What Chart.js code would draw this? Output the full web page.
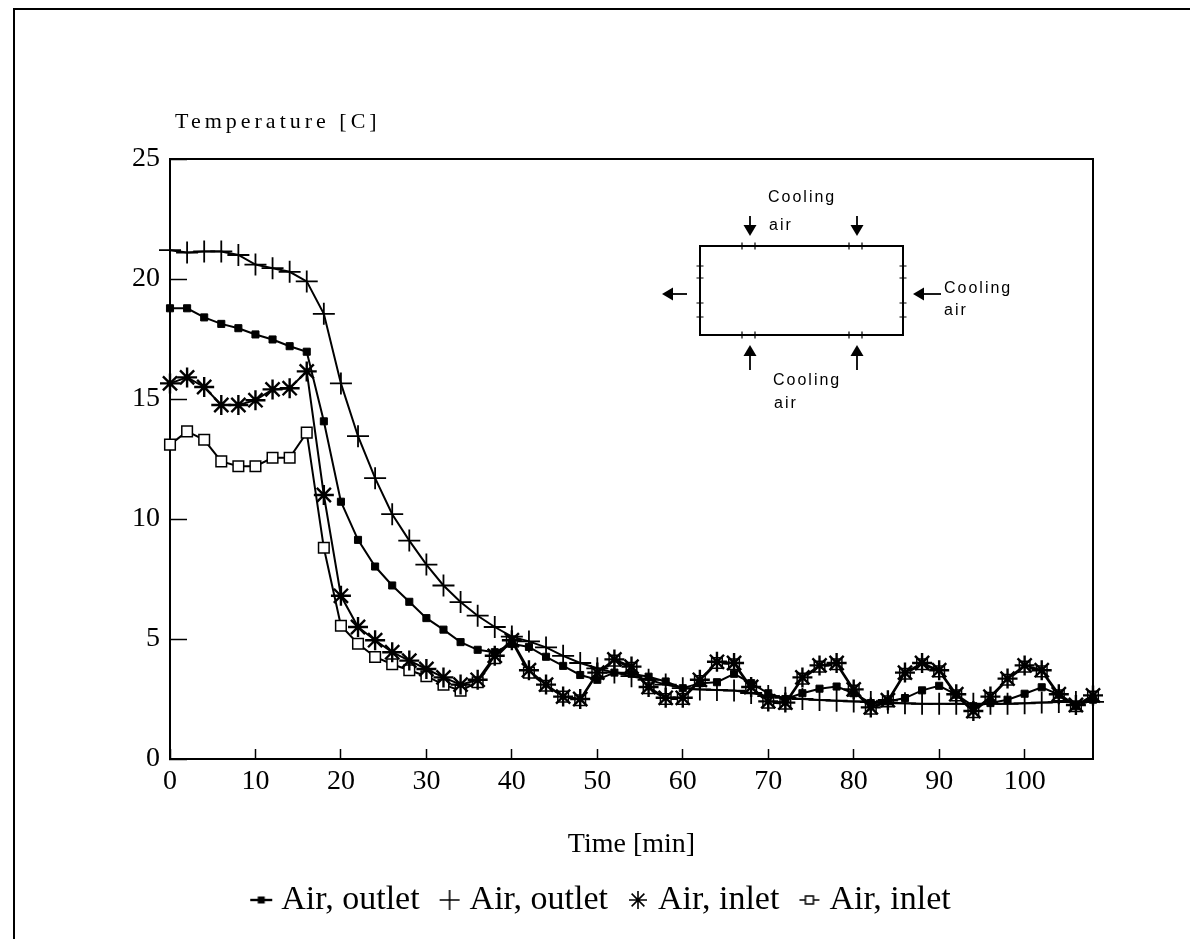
<!DOCTYPE html>
<html>
<head>
<meta charset="utf-8">
<script src="https://cdn.jsdelivr.net/npm/chart.js@4/dist/chart.umd.min.js"></script>
<style>
html,body{margin:0;padding:0;background:#fff;}
#wrap{width:1190px;height:939px;position:relative;}
</style>
</head>
<body>
<div id="wrap"><canvas id="c"></canvas></div>
<script>
// ---- data ----
const times = [0,2,4,6,8,10,12,14,16,18,20,22,24,26,28,30,32,34,36,38,40,42,44,46,48,50,52,54,56,58,60,62,64,66,68,70,72,74,76,78,80,82,84,86,88,90,92,94,96,98,100,102,104,106,108];
const outletSquare = [18.78,18.78,18.4,18.13,17.95,17.69,17.48,17.2,16.97,14.07,10.72,9.13,8.02,7.23,6.55,5.87,5.39,4.87,4.55,4.45,4.8,4.67,4.26,3.88,3.5,3.3,3.6,3.55,3.43,3.23,2.95,3.16,3.2,3.55,3.16,2.74,2.5,2.74,2.93,3.02,2.74,2.33,2.4,2.54,2.86,3.05,2.68,2.2,2.33,2.47,2.72,2.99,2.68,2.2,2.47];
const outletPlus = [21.2,21.1,21.15,21.15,21.0,20.6,20.45,20.3,19.9,18.55,15.65,13.45,11.7,10.2,9.1,8.1,7.23,6.54,5.97,5.5,5.1,4.9,4.65,4.3,4.0,3.78,3.6,3.45,3.3,3.1,2.95,2.9,2.88,2.85,2.75,2.62,2.55,2.5,2.46,2.43,2.4,2.37,2.34,2.32,2.3,2.3,2.3,2.3,2.3,2.3,2.32,2.35,2.37,2.38,2.38];
const inletStar = [15.65,15.9,15.5,14.75,14.75,14.95,15.4,15.45,16.15,11.0,6.8,5.5,4.95,4.45,4.1,3.75,3.4,3.1,3.3,4.3,4.95,3.7,3.1,2.6,2.5,3.6,4.15,3.85,3.0,2.55,2.55,3.3,4.05,4.0,3.0,2.4,2.35,3.4,3.9,4.0,2.9,2.15,2.45,3.6,4.0,3.7,2.7,2.0,2.6,3.35,3.9,3.7,2.7,2.25,2.65];
const inletBox = [13.1,13.65,13.3,12.4,12.2,12.2,12.55,12.55,13.6,8.8,5.55,4.8,4.25,3.95,3.7,3.45,3.1,2.85,3.2,4.2,4.9,3.6,3.05,2.6,2.45,3.55,4.1,3.8,2.95,2.5,2.5,3.25,4.0,3.95,2.95,2.35,2.3,3.35,3.85,3.95,2.85,2.1,2.4,3.55,3.95,3.65,2.65,1.95,2.55,3.3,3.85,3.65,2.65,2.2,2.6];
const seriesNames = ['Air, outlet','Air, outlet','Air, inlet','Air, inlet'];
const xTickValues = [0,10,20,30,40,50,60,70,80,90,100];
const yTickValues = [0,5,10,15,20,25];
const yAxisLabel = 'Temperature [C]';
const xAxisLabel = 'Time [min]';
const insetLabels = ['Cooling','air'];

// ---- helpers ----
const pts = arr => times.map((t,i)=>({x:t,y:arr[i]}));
const SERIF = 'Liberation Serif';

function glyph(kind){
  const c=document.createElement('canvas'); c.width=26; c.height=22;
  const g=c.getContext('2d'); g.strokeStyle='#000'; g.fillStyle='#000'; g.lineWidth=2;
  const cx=13, cy=11;
  g.beginPath();
  if(kind==='sq'){ g.lineWidth=2.4; g.moveTo(2,cy); g.lineTo(24,cy); g.stroke(); g.fillRect(cx-3.5,cy-3.5,7,7); }
  if(kind==='plus'){ g.lineWidth=1.6; g.moveTo(cx-10,cy); g.lineTo(cx+10,cy); g.moveTo(cx,cy-10); g.lineTo(cx,cy+10); g.stroke(); }
  if(kind==='star'){ g.lineWidth=1.6; for(let a=0;a<4;a++){const r=a*Math.PI/4; g.moveTo(cx-9*Math.cos(r),cy-9*Math.sin(r)); g.lineTo(cx+9*Math.cos(r),cy+9*Math.sin(r));} g.stroke(); }
  if(kind==='box'){ g.lineWidth=1.5; g.moveTo(3,cy); g.lineTo(23,cy); g.stroke(); g.fillStyle='#fff'; g.fillRect(cx-4,cy-4,8,8); g.strokeRect(cx-4,cy-4,8,8); }
  return c;
}
const legendGlyphs = [glyph('sq'),glyph('plus'),glyph('star'),glyph('box')];

function arrow(ctx,x1,y1,x2,y2){
  const ang=Math.atan2(y2-y1,x2-x1), L=11, W=6.5;
  const bx=x2-L*Math.cos(ang), by=y2-L*Math.sin(ang);
  ctx.beginPath(); ctx.moveTo(x1,y1); ctx.lineTo(bx,by); ctx.lineWidth=1.8; ctx.stroke();
  ctx.beginPath(); ctx.moveTo(x2,y2);
  ctx.lineTo(bx+W*Math.sin(ang), by-W*Math.cos(ang));
  ctx.lineTo(bx-W*Math.sin(ang), by+W*Math.cos(ang));
  ctx.closePath(); ctx.fill();
}

const decor = {
  id:'decor',
  afterDraw(chart){
    const ctx=chart.ctx; ctx.save();
    ctx.strokeStyle='#000'; ctx.fillStyle='#000';
    // outer frame (top and left)
    ctx.lineWidth=2; ctx.beginPath(); ctx.moveTo(14,939); ctx.lineTo(14,9); ctx.lineTo(1190,9); ctx.stroke();
    // y axis caption
    ctx.font='22px "'+SERIF+'"'; ctx.textAlign='left'; ctx.textBaseline='middle';
    try{ctx.letterSpacing='4px';}catch(e){}
    ctx.fillText(yAxisLabel,175,122);
    // inset schematic
    ctx.lineWidth=2; ctx.strokeRect(700,246,203,89);
    ctx.lineWidth=1.2; ctx.beginPath();
    [742,755,849,862].forEach(x=>{ctx.moveTo(x,242.5);ctx.lineTo(x,249.5);ctx.moveTo(x,331.5);ctx.lineTo(x,338.5);});
    [266,278,303,317].forEach(y=>{ctx.moveTo(696.5,y);ctx.lineTo(703.5,y);ctx.moveTo(899.5,y);ctx.lineTo(906.5,y);});
    ctx.stroke();
    arrow(ctx,750,216,750,236); arrow(ctx,857,216,857,236);
    arrow(ctx,750,370,750,345); arrow(ctx,857,370,857,345);
    arrow(ctx,687,294,662,294); arrow(ctx,941,294,913,294);
    ctx.font='16px "Liberation Sans"'; try{ctx.letterSpacing='2px';}catch(e){}
    ctx.fillText(insetLabels[0],768,198); ctx.fillText(insetLabels[1],769,226);
    ctx.fillText(insetLabels[0],944,289); ctx.fillText(insetLabels[1],944,311);
    ctx.fillText(insetLabels[0],773,381); ctx.fillText(insetLabels[1],774,404);
    ctx.restore();
  }
};

const common = {borderColor:'#000', backgroundColor:'#000', borderWidth:2, tension:0, clip:false,
  pointBorderColor:'#000', pointHoverRadius:0};

new Chart(document.getElementById('c'), {
  type:'line',
  data:{datasets:[
    Object.assign({}, common, {label:seriesNames[0], data:pts(outletSquare), pointStyle:'rect', pointRadius:5, pointBorderWidth:1, pointBackgroundColor:'#000'}),
    Object.assign({}, common, {label:seriesNames[1], data:pts(outletPlus), pointStyle:'cross', pointRadius:11, pointBorderWidth:1.8, pointBackgroundColor:'#000'}),
    Object.assign({}, common, {label:seriesNames[2], data:pts(inletStar), pointStyle:'star', pointRadius:10, pointBorderWidth:2.4, pointBackgroundColor:'#000'}),
    Object.assign({}, common, {label:seriesNames[3], data:pts(inletBox), pointStyle:'rect', pointRadius:7.5, pointBorderWidth:1.5, pointBackgroundColor:'#fff'})
  ]},
  options:{
    responsive:true, maintainAspectRatio:false, animation:false, devicePixelRatio:1,
    layout:{padding:{left:19,right:0,top:159,bottom:12}},
    scales:{
      x:{type:'linear', position:'bottom', min:0, max:108,
        afterBuildTicks:s=>{s.ticks=xTickValues.map(v=>({value:v}));},
        afterFit:s=>{s.height=97;},
        grid:{drawOnChartArea:false, tickLength:-10, tickColor:'#000', tickWidth:1.5},
        border:{color:'#000', width:2},
        ticks:{color:'#000', font:{family:SERIF,size:28,lineHeight:1}, padding:19, maxRotation:0, autoSkip:false},
        title:{display:true, text:xAxisLabel, color:'#000', font:{family:SERIF,size:28,lineHeight:0.8}, padding:{top:0,bottom:0}}
      },
      y:{type:'linear', position:'left', min:0, max:25,
        afterBuildTicks:s=>{s.ticks=yTickValues.map(v=>({value:v}));},
        afterFit:s=>{s.width=151;},
        grid:{drawOnChartArea:false, tickLength:-17, tickColor:'#000', tickWidth:1.5},
        border:{color:'#000', width:2},
        ticks:{color:'#000', font:{family:SERIF,size:28,lineHeight:1}, padding:27}
      },
      x2:{type:'linear', position:'top', ticks:{display:false}, grid:{drawOnChartArea:false, drawTicks:false},
        border:{color:'#000', width:2}, afterFit:s=>{s.height=0;}},
      y2:{type:'linear', position:'right', ticks:{display:false}, grid:{drawOnChartArea:false, drawTicks:false},
        border:{color:'#000', width:2}, afterFit:s=>{s.width=97;}}
    },
    plugins:{
      tooltip:{enabled:false},
      legend:{position:'bottom', labels:{usePointStyle:true, pointStyleWidth:6, padding:27, color:'#000',
        font:{family:SERIF,size:34},
        generateLabels:(chart)=>{
          const items=Chart.defaults.plugins.legend.labels.generateLabels(chart);
          items.forEach((it,i)=>{it.pointStyle=legendGlyphs[i];});
          return items;
        }}}
    }
  },
  plugins:[decor]
});
</script>
</body>
</html>
